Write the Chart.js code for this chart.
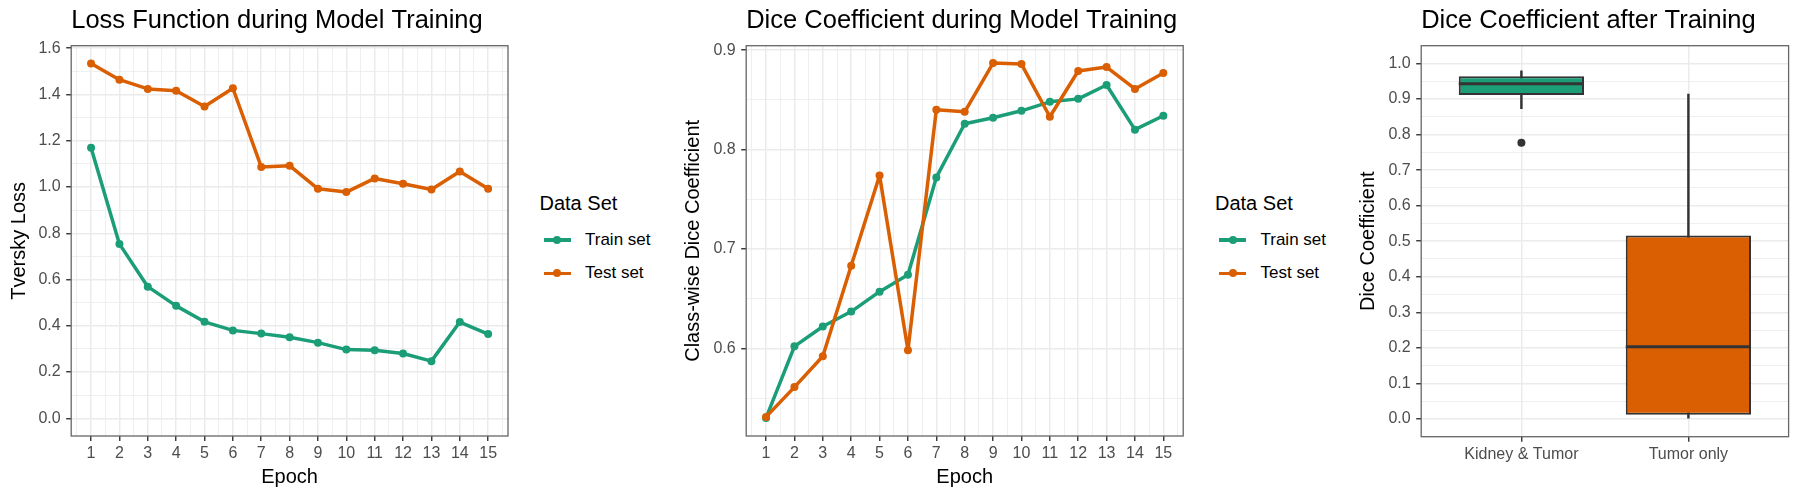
<!DOCTYPE html>
<html>
<head>
<meta charset="utf-8">
<script src="https://cdn.jsdelivr.net/npm/chart.js@4.4.1/dist/chart.umd.min.js"></script>
<style>
    html, body { margin: 0; padding: 0; background: #ffffff; }
    #page { position: relative; width: 1800px; height: 500px; overflow: hidden; font-family: "Liberation Sans", Arial, sans-serif; }
    canvas { position: absolute; top: 0; }
    .legend { position: absolute; top: 0; }
    .legend-title { position: absolute; font-size: 20px; line-height: 24px; color: #000; white-space: nowrap; }
    .legend-row { position: absolute; height: 24px; }
    .legend-line { position: absolute; left: 4px; top: 10.25px; width: 27px; height: 3.5px; }
    .legend-dot { position: absolute; left: 13.5px; top: 8px; width: 8px; height: 8px; border-radius: 50%; }
    .legend-text { position: absolute; left: 45.5px; top: 0; font-size: 17px; line-height: 24px; color: #000; white-space: nowrap; }
</style>
</head>
<body>
<div id="page">
    <canvas id="lossChart" width="520" height="500" style="left:0px"></canvas>
    <canvas id="diceChart" width="540" height="500" style="left:660px"></canvas>
    <canvas id="boxChart" width="470" height="500" style="left:1330px"></canvas>
    <div class="legend" id="legendLoss" style="left:539.5px"></div>
    <div class="legend" id="legendDice" style="left:1215px"></div>
</div>

<script>
// ==================== DATA ====================

const epochs = [1, 2, 3, 4, 5, 6, 7, 8, 9, 10, 11, 12, 13, 14, 15];

const seriesNames = ['Train set', 'Test set'];
const seriesColors = ['#1B9E77', '#D95F02'];

// Tversky loss per epoch
const lossTrain = [1.170, 0.754, 0.569, 0.486, 0.417, 0.380, 0.366, 0.350, 0.327, 0.297, 0.294, 0.280, 0.247, 0.416, 0.364];
const lossTest  = [1.534, 1.464, 1.424, 1.416, 1.348, 1.427, 1.087, 1.092, 0.992, 0.978, 1.037, 1.014, 0.989, 1.067, 0.992];

// Class-wise dice coefficient per epoch
const diceTrain = [0.530, 0.602, 0.622, 0.637, 0.657, 0.674, 0.772, 0.826, 0.832, 0.839, 0.848, 0.851, 0.865, 0.820, 0.834];
const diceTest  = [0.531, 0.561, 0.592, 0.683, 0.774, 0.598, 0.840, 0.838, 0.887, 0.886, 0.833, 0.879, 0.883, 0.861, 0.877];

// Tick labels
const lossTicks = [0.0, 0.2, 0.4, 0.6, 0.8, 1.0, 1.2, 1.4, 1.6];
const diceTicks = [0.6, 0.7, 0.8, 0.9];
const boxTicks = [0.0, 0.1, 0.2, 0.3, 0.4, 0.5, 0.6, 0.7, 0.8, 0.9, 1.0];

// Box plot after training
const boxCategories = ['Kidney & Tumor', 'Tumor only'];
const boxColors = ['#1B9E77', '#D95F02'];
const boxWhiskerLow = [0.873, 0.002];
const boxQ1 = [0.911, 0.012];
const boxMedian = [0.943, 0.203];
const boxQ3 = [0.964, 0.516];
const boxWhiskerHigh = [0.979, 0.914];
const outlierCategory = ['Kidney & Tumor'];
const outlierValues = [0.777];

// ==================== SETUP ====================

Chart.defaults.font.family = '"Liberation Sans", Arial, sans-serif';
Chart.defaults.color = '#4D4D4D';

const tickGray = '#4D4D4D';
const gridGray = '#EBEBEB';
const darkGray = '#333333';

function isMajor(value, majors) {
    return majors.some(m => Math.abs(m - value) < 1e-9);
}

// major ticks plus the half steps between them (ggplot minor grid)
function withMinor(majors, step, min, max) {
    const all = majors.slice();
    majors.forEach(v => all.push(v - step / 2));
    all.push(majors[majors.length - 1] + step / 2);
    return all.filter(v => v >= min && v <= max).sort((a, b) => a - b);
}

function gridOptions(majors) {
    return {
        offset: false,
        color: gridGray,
        lineWidth: ctx => (ctx.tick && isMajor(ctx.tick.value, majors)) ? 1.5 : 0.8,
        tickColor: ctx => (ctx.tick && isMajor(ctx.tick.value, majors)) ? darkGray : 'rgba(0,0,0,0)',
        tickLength: 5,
        tickWidth: 1.4,
        drawTicks: true
    };
}

// panel border drawn on top, like theme_bw
const panelBorder = {
    id: 'panelBorder',
    afterDraw(chart) {
        const { ctx, chartArea } = chart;
        ctx.save();
        ctx.strokeStyle = '#666666';
        ctx.lineWidth = 1.3;
        ctx.strokeRect(chartArea.left, chartArea.top, chartArea.right - chartArea.left, chartArea.bottom - chartArea.top);
        ctx.restore();
    }
};

function titleOptions(text) {
    return {
        display: true,
        text: text,
        align: 'start',
        fullSize: false,
        color: '#000',
        font: { size: 25.5, weight: 'normal' },
        padding: { top: 5.5, bottom: 9.6 }
    };
}

// ==================== LINE CHARTS ====================

function makeLineChart(canvasId, opts) {
    const xMin = 0.3, xMax = 15.7;
    const xAll = withMinor(epochs, 1, xMin, xMax);
    const yAll = withMinor(opts.yTicks, opts.yStep, opts.yMin, opts.yMax);

    const datasets = [opts.train, opts.test].map((values, i) => ({
        label: seriesNames[i],
        data: epochs.map((e, j) => ({ x: e, y: values[j] })),
        borderColor: seriesColors[i],
        backgroundColor: seriesColors[i],
        pointBackgroundColor: seriesColors[i],
        pointBorderColor: seriesColors[i],
        borderWidth: 3.5,
        borderJoinStyle: 'round',
        borderCapStyle: 'round',
        pointRadius: 4,
        pointBorderWidth: 0,
        tension: 0,
        order: 2 - i
    }));

    return new Chart(document.getElementById(canvasId), {
        type: 'line',
        data: { datasets },
        plugins: [panelBorder],
        options: {
            responsive: false,
            animation: false,
            layout: { padding: { left: 0, right: opts.padRight, top: 0, bottom: 0 } },
            plugins: {
                legend: { display: false },
                tooltip: { enabled: false },
                title: titleOptions(opts.title)
            },
            scales: {
                x: {
                    type: 'linear',
                    min: xMin,
                    max: xMax,
                    afterBuildTicks: axis => { axis.ticks = xAll.map(v => ({ value: v })); },
                    afterFit: axis => { axis.height = 64; },
                    ticks: {
                        autoSkip: false,
                        maxRotation: 0,
                        padding: 3,
                        color: tickGray,
                        font: { size: 16 },
                        callback: v => isMajor(v, epochs) ? String(Math.round(v)) : ''
                    },
                    grid: gridOptions(epochs),
                    border: { display: false },
                    title: {
                        display: true,
                        text: 'Epoch',
                        color: '#000',
                        font: { size: 20 },
                        padding: { top: 0, bottom: 11 }
                    }
                },
                y: {
                    type: 'linear',
                    min: opts.yMin,
                    max: opts.yMax,
                    afterBuildTicks: axis => { axis.ticks = yAll.map(v => ({ value: v })); },
                    afterFit: axis => { axis.width = opts.yAxisWidth; },
                    ticks: {
                        autoSkip: false,
                        padding: 5.5,
                        color: tickGray,
                        font: { size: 16 },
                        callback: v => isMajor(v, opts.yTicks) ? v.toFixed(1) : ''
                    },
                    grid: gridOptions(opts.yTicks),
                    border: { display: false },
                    title: {
                        display: true,
                        text: opts.yTitle,
                        color: '#000',
                        font: { size: 20 },
                        padding: { top: opts.yTitlePad, bottom: 0 }
                    }
                }
            }
        }
    });
}

makeLineChart('lossChart', {
    title: 'Loss Function during Model Training',
    yTitle: 'Tversky Loss',
    train: lossTrain,
    test: lossTest,
    yTicks: lossTicks,
    yStep: 0.2,
    yMin: -0.0767,
    yMax: 1.611,
    yAxisWidth: 71.2,
    yTitlePad: 7,
    padRight: 12
});

makeLineChart('diceChart', {
    title: 'Dice Coefficient during Model Training',
    yTitle: 'Class-wise Dice Coefficient',
    train: diceTrain,
    test: diceTest,
    yTicks: diceTicks,
    yStep: 0.1,
    yMin: 0.5118,
    yMax: 0.9045,
    yAxisWidth: 86.2,
    yTitlePad: 21.8,
    padRight: 16.8
});

// ==================== BOX PLOT ====================

const boxWidth = 0.75;
const catIndex = boxCategories.map((c, i) => i + 1);
const boxAll = withMinor(boxTicks, 0.1, -0.05, 1.05);

new Chart(document.getElementById('boxChart'), {
    type: 'bar',
    data: {
        datasets: [
            {
                type: 'line',
                label: 'median',
                data: catIndex.map((x, i) => ({ x: x, y: boxMedian[i] })),
                showLine: false,
                pointStyle: 'line',
                pointRadius: ctx => {
                    const xs = ctx.chart.scales.x;
                    return Math.abs(xs.getPixelForValue(1 + boxWidth / 2) - xs.getPixelForValue(1));
                },
                pointBorderWidth: 3.2,
                pointBorderColor: darkGray,
                pointBackgroundColor: darkGray,
                order: 0
            },
            {
                type: 'line',
                label: 'outliers',
                data: outlierCategory.map((c, i) => ({ x: boxCategories.indexOf(c) + 1, y: outlierValues[i] })),
                showLine: false,
                pointRadius: 4,
                pointBorderWidth: 0,
                pointBackgroundColor: darkGray,
                order: 0
            },
            {
                label: 'box',
                data: catIndex.map((x, i) => ({ x: x, y: [boxQ1[i], boxQ3[i]] })),
                backgroundColor: boxColors,
                borderColor: darkGray,
                borderWidth: 2,
                borderSkipped: false,
                grouped: false,
                categoryPercentage: 1,
                barPercentage: boxWidth,
                order: 1
            },
            {
                label: 'whisker',
                data: catIndex.map((x, i) => ({ x: x, y: [boxWhiskerLow[i], boxWhiskerHigh[i]] })),
                backgroundColor: darkGray,
                borderWidth: 0,
                grouped: false,
                barThickness: 1.8,
                order: 2
            }
        ]
    },
    plugins: [panelBorder],
    options: {
        responsive: false,
        animation: false,
        layout: { padding: { left: 0, right: 11.4, top: 0, bottom: 0 } },
        plugins: {
            legend: { display: false },
            tooltip: { enabled: false },
            title: titleOptions('Dice Coefficient after Training')
        },
        scales: {
            x: {
                type: 'linear',
                min: 0.4,
                max: 2.6,
                offset: false,
                afterBuildTicks: axis => { axis.ticks = catIndex.map(v => ({ value: v })); },
                afterFit: axis => { axis.height = 63.3; },
                ticks: {
                    autoSkip: false,
                    maxRotation: 0,
                    padding: 3,
                    color: tickGray,
                    font: { size: 16 },
                    callback: v => boxCategories[Math.round(v) - 1]
                },
                grid: gridOptions(catIndex),
                border: { display: false }
            },
            y: {
                type: 'linear',
                min: -0.05,
                max: 1.05,
                afterBuildTicks: axis => { axis.ticks = boxAll.map(v => ({ value: v })); },
                afterFit: axis => { axis.width = 91.2; },
                ticks: {
                    autoSkip: false,
                    padding: 5.5,
                    color: tickGray,
                    font: { size: 16 },
                    callback: v => isMajor(v, boxTicks) ? v.toFixed(1) : ''
                },
                grid: gridOptions(boxTicks),
                border: { display: false },
                title: {
                    display: true,
                    text: 'Dice Coefficient',
                    color: '#000',
                    font: { size: 20 },
                    padding: { top: 26.4, bottom: 0 }
                }
            }
        }
    }
});

// ==================== LEGENDS ====================

function buildLegend(elementId) {
    const box = document.getElementById(elementId);
    const title = document.createElement('div');
    title.className = 'legend-title';
    title.style.top = (203 - 12) + 'px';
    title.textContent = 'Data Set';
    box.appendChild(title);

    const rowCenters = [240, 273.3];
    seriesNames.forEach((name, i) => {
        const row = document.createElement('div');
        row.className = 'legend-row';
        row.style.top = (rowCenters[i] - 12) + 'px';
        row.innerHTML =
            `<div class="legend-line" style="background:${seriesColors[i]}"></div>` +
            `<div class="legend-dot" style="background:${seriesColors[i]}"></div>` +
            `<div class="legend-text">${name}</div>`;
        box.appendChild(row);
    });
}

buildLegend('legendLoss');
buildLegend('legendDice');
</script>
</body>
</html>
